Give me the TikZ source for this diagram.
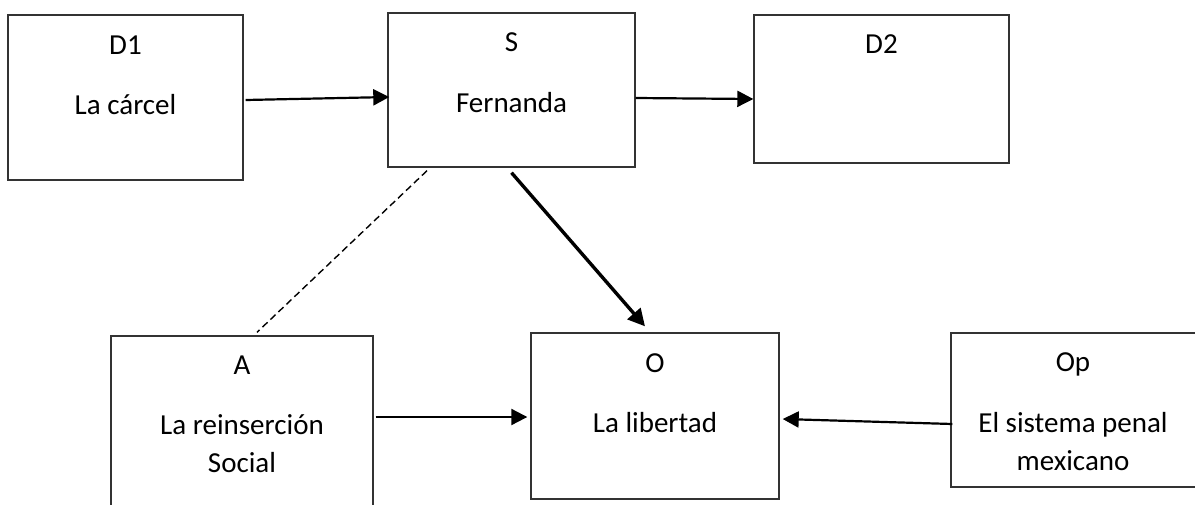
\documentclass[tikz,border=0pt]{standalone}
\usepackage{fontspec}
\setmainfont{Carlito}
\usetikzlibrary{arrows.meta}
\begin{document}
\begin{tikzpicture}[x=1pt,y=-1pt,
  box/.style={draw=black!80,line width=1.4pt,rectangle,inner sep=0pt},
  lbl/.style={anchor=base,inner sep=0pt,font=\fontsize{29}{38}\selectfont},
  arr/.style={line width=2.2pt,-{Triangle[length=16pt,width=16pt]}},
  thickarr/.style={line width=3.4pt,-{Triangle[length=17pt,width=17pt]}},
  dsh/.style={line width=1.4pt,dash pattern=on 7pt off 4pt}]
\useasboundingbox (0,0) rectangle (1195,504);
\node[box,minimum width=235pt,minimum height=165pt] (D1) at (125.5,97.5) {};
\node[box,minimum width=247pt,minimum height=154pt] (S) at (511.5,90) {};
\node[box,minimum width=255pt,minimum height=148pt] (D2) at (881.5,89) {};
\node[box,minimum width=262pt,minimum height=180pt] (A) at (242,426) {};
\node[box,minimum width=248pt,minimum height=166pt] (O) at (655,416) {};
\node[box,minimum width=249pt,minimum height=154pt] (Op) at (1075.5,410) {};
\node[lbl] (D1t) at (125.5,54) {D1};
\node[lbl] (D1x) at (125.5,114) {La cárcel};
\node[lbl] (St) at (511.5,51) {S};
\node[lbl] (Sx) at (511.5,112) {Fernanda};
\node[lbl] (D2t) at (881.5,53) {D2};
\node[lbl] (At) at (242,374) {A};
\node[lbl] (Ax1) at (242,434) {La reinserción};
\node[lbl] (Ax2) at (242,472) {Social};
\node[lbl] (Ot) at (655,372) {O};
\node[lbl] (Ox) at (655,432) {La libertad};
\node[lbl] (Opt) at (1073,371) {Op};
\node[lbl] (Opx1) at (1073,432) {El sistema penal};
\node[lbl] (Opx2) at (1073,470) {mexicano};
\draw[arr] ([xshift=2pt,yshift=-2.5pt]D1.east) -- ([xshift=2pt,yshift=-7pt]S.west);
\draw[arr] ([yshift=-8pt]S.east) -- ([yshift=-10pt]D2.west);
\draw[thickarr] ([yshift=-5pt]S.south) -- ([xshift=-10pt,yshift=6pt]O.north);
\draw[dsh] ([xshift=-84.5pt,yshift=-3pt]S.south) -- ([xshift=15pt,yshift=3pt]A.north);
\draw[arr] ([xshift=2pt,yshift=9pt]A.east) -- ([xshift=-3pt,yshift=-1pt]O.west);
\draw[arr] ([xshift=2pt,yshift=-14pt]Op.west) -- ([xshift=3pt,yshift=-3pt]O.east);
\end{tikzpicture}
\end{document}
